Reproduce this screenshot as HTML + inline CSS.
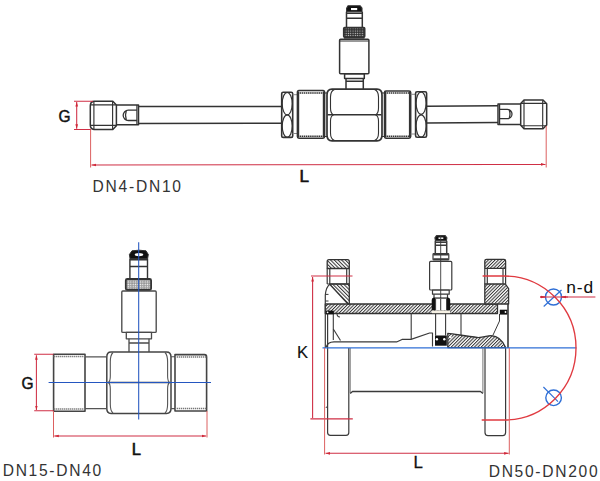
<!DOCTYPE html>
<html><head><meta charset="utf-8">
<style>
html,body{margin:0;padding:0;background:#fff;}
body{width:600px;height:481px;overflow:hidden;}
svg{display:block;}
.t{font-family:"Liberation Sans",sans-serif;}
</style></head><body>
<svg width="600" height="481" viewBox="0 0 600 481">
<defs>
  <pattern id="hf" patternUnits="userSpaceOnUse" width="2.35" height="4" patternTransform="rotate(45)">
    <rect width="2.35" height="4" fill="#fff"/>
    <rect x="0" y="0" width="1.0" height="4" fill="#333"/>
  </pattern>
  <pattern id="hb" patternUnits="userSpaceOnUse" width="2.6" height="4" patternTransform="rotate(-45)">
    <rect width="2.6" height="4" fill="#fff"/>
    <rect x="0" y="0" width="1.0" height="4" fill="#333"/>
  </pattern>
  <pattern id="kn" patternUnits="userSpaceOnUse" width="2.4" height="2.4">
    <rect width="2.3" height="2.3" fill="#888"/>
    <circle cx="1.15" cy="1.15" r="0.72" fill="#fff"/>
  </pattern>
  <pattern id="kn2" patternUnits="userSpaceOnUse" width="2.3" height="2.3">
    <rect width="2.3" height="2.3" fill="#333"/>
    <circle cx="1.15" cy="1.15" r="0.6" fill="#ddd"/>
  </pattern>
  <marker id="ar" viewBox="0 0 10 10" refX="10" refY="5" markerWidth="4.5" markerHeight="4.5" orient="auto-start-reverse" markerUnits="userSpaceOnUse">
    <path d="M0,2 L10,5 L0,8 z" fill="#d02838"/>
  </marker>
</defs>

<!-- ================= TOP DRAWING DN4-DN10 ================= -->
<g fill="none" stroke="#333" stroke-width="1.5" stroke-linejoin="round">
  <!-- left connector -->
  <path d="M94,101.3 L112.8,101.3 L116.4,105 L116.4,125.8 L112.8,129.5 L94,129.5 Q90.3,129 90.3,125 L90.3,105.8 Q90.3,101.8 94,101.3 z"/>
  <path d="M90.8,104.8 L116,104.8 M90.8,125.4 L116,125.4 M93.9,101.5 L93.9,129.3 M112.6,101.5 L112.6,129.3" stroke-width="1.15"/>
  <!-- left neck -->
  <path d="M116.4,105 L138.5,105 L138.5,124.8 L116.4,124.8"/>
  <path d="M136.9,105 L136.9,124.8" stroke-width="1.2"/>
  <path d="M136.9,110.2 L128.3,110.2 A5.1,5.1 0 0 0 128.3,120.5 L136.9,120.5 M126.3,110.8 Q124.6,115.3 126.3,119.9" stroke-width="1.3"/>
  <!-- left tube -->
  <path d="M138.5,106.6 L282,106.5 M138.5,123.6 L282,123.2"/>
  <!-- left nut -->
  <rect x="281.7" y="92.3" width="11" height="45.1" rx="1.5" stroke-width="1.6"/>
  <ellipse cx="287.2" cy="103.7" rx="5" ry="11.2" stroke-width="1.2"/>
  <ellipse cx="287.2" cy="126.1" rx="5" ry="11.2" stroke-width="1.2"/>
  <path d="M292.7,94.7 L297.4,94.7 M292.7,133.5 L297.4,133.5" stroke-width="1" stroke="#8a8a8a"/>
  <!-- left threaded -->
  <path d="M299,90.6 L323,90.6 Q324.6,90.6 324.6,92.5 L324.6,136.5 Q324.6,138.2 323,138.2 L299,138.2 Q297.4,138.2 297.4,136.5 L297.4,92.5 Q297.4,90.6 299,90.6 z"/>
  <path d="M297.5,93 L324.5,93 M297.5,136.2 L324.5,136.2" stroke-width="1.4" stroke-dasharray="1.5 0.6"/>
  <path d="M298.2,91.5 L298.2,137.5 M323.8,91.5 L323.8,137.5" stroke-width="2"/>
  <path d="M324.6,93 L327.5,93 M324.6,136.5 L327.5,136.5" stroke-width="1.1"/>
  <!-- central hex -->
  <path d="M332,89.2 L377,89.2 Q382,89.2 382,95 L382,135 Q382,140.8 377,140.8 L332,140.8 Q327,140.8 327,135 L327,95 Q327,89.2 332,89.2 z" stroke-width="1.7"/>
  <path d="M327.5,114.7 L381.5,114.7" stroke-width="1.6"/>
  <path d="M334.5,89.5 Q330.5,91 330.5,97 L330.5,108 Q330.5,113.5 333.5,114.7 Q330.5,116 330.5,121 L330.5,133 Q330.5,139 334.5,140.5 M374.5,89.5 Q378.5,91 378.5,97 L378.5,108 Q378.5,113.5 375.5,114.7 Q378.5,116 378.5,121 L378.5,133 Q378.5,139 374.5,140.5" stroke-width="1.1"/>
  <path d="M382,93 L384.5,93 M382,136.5 L384.5,136.5" stroke-width="1.1"/>
  <!-- right threaded -->
  <path d="M386,90.9 L409,90.9 Q410.7,90.9 410.7,92.5 L410.7,136.5 Q410.7,138.2 409,138.2 L386,138.2 Q384.5,138.2 384.5,136.5 L384.5,92.5 Q384.5,90.9 386,90.9 z"/>
  <path d="M384.5,93 L410.7,93 M384.5,136.2 L410.7,136.2" stroke-width="1.4" stroke-dasharray="1.5 0.6"/>
  <path d="M385.3,91.5 L385.3,137.5 M409.9,91.5 L409.9,137.5" stroke-width="2"/>
  <path d="M410.7,94.3 L415.6,94.3 M410.7,134 L415.6,134" stroke-width="1" stroke="#8a8a8a"/>
  <!-- right nut -->
  <rect x="415.6" y="91.8" width="11" height="45.4" rx="1.5" stroke-width="1.6"/>
  <ellipse cx="421.1" cy="103.2" rx="5" ry="11.2" stroke-width="1.2"/>
  <ellipse cx="421.1" cy="126" rx="5" ry="11.2" stroke-width="1.2"/>
  <!-- right tube -->
  <path d="M426,106.2 L498,105.7 M426,123 L498,122.4"/>
  <!-- right neck -->
  <path d="M520.7,104 L498,104 L498,124.4 L520.7,124.4"/>
  <path d="M499.6,104 L499.6,124.4" stroke-width="1.2"/>
  <path d="M499.6,109.3 L507.3,109.3 A4.7,4.7 0 0 1 507.3,118.7 L499.6,118.7 M509.2,109.9 Q510.8,114 509.2,118.1" stroke-width="1.3"/>
  <!-- right connector -->
  <path d="M524,100 L543,100 L546.7,103.8 L546.7,124.9 L543,128.7 L524,128.7 L520.7,125.2 L520.7,103.5 z"/>
  <path d="M521,103.3 L546.3,103.3 M521,125.7 L546.3,125.7 M524,100.3 L524,128.4 M542.7,100.3 L542.7,128.4" stroke-width="1.15"/>
  <!-- sensor -->
  <path d="M348,5.8 L360.2,5.8 L362,8.2 L362,11.7 L346.6,11.7 L346.6,8.2 z" fill="#111" stroke-width="1.1"/>
  <rect x="351" y="8" width="6.2" height="2.1" fill="#fff" stroke="none"/>
  <path d="M346.5,11.7 L346.5,27.6 M362.3,11.7 L362.3,27.6 M346.5,13.3 L362.3,13.3 M346.5,18.3 L362.3,18.3" stroke-width="1.5"/>
  <rect x="343.7" y="27.6" width="21" height="9.6" rx="1" fill="url(#kn2)" stroke-width="1.6"/>
  <path d="M344,38 L364.5,38" stroke-width="1.3"/>
  <rect x="339.6" y="39.3" width="29.3" height="34.5" rx="1"/>
  <path d="M339.8,41 L368.8,41" stroke-width="1"/>
  <rect x="344.6" y="73.8" width="19.7" height="4.7"/>
  <path d="M346,78.5 L346,89 M363.3,78.5 L363.3,89 M346,81.3 L363.3,81.3"/>
</g>
<!-- top dims -->
<g fill="none" stroke="#cf2f45" stroke-width="1.05">
  <path d="M74,101.2 L93,101.2 M74,129.5 L91,129.5"/>
  <path d="M76.7,102 L76.7,128.7" marker-start="url(#ar)" marker-end="url(#ar)"/>
  <path d="M90.6,129.5 L90.6,167.5 M546.2,126 L546.2,167.5" stroke="#dc6060" stroke-width="1"/>
  <path d="M91.5,165 L545.5,164.4" marker-start="url(#ar)" marker-end="url(#ar)"/>
</g>
<text class="t" transform="translate(58.6,121.6) scale(0.9,1)" font-size="17.2" fill="#111" stroke="#111" stroke-width="0.5">G</text>
<text class="t" x="299.4" y="182.4" font-size="17.2" fill="#111" stroke="#111" stroke-width="0.6">L</text>
<text class="t" x="92.5" y="192" font-size="15.6" fill="#333" letter-spacing="1.75">DN4-DN10</text>

<!-- ================= MIDDLE DRAWING DN15-DN40 ================= -->
<g fill="none" stroke="#333" stroke-width="1.5" stroke-linejoin="round">
  <!-- cap -->
  <path d="M132,250.8 Q139,249.6 146,250.8 L148.3,254.5 L147.6,258.5 L130,258.5 L129.4,254.5 z" fill="#111" stroke-width="1"/>
  <ellipse cx="139" cy="254.6" rx="4.3" ry="1.6" fill="#fff" stroke="none"/>
  <path d="M129.9,258.5 L129.9,279 M147.5,258.5 L147.5,279 M129.9,259.8 L147.5,259.8 M129.9,266.5 L147.5,266.5" stroke-width="1.4"/>
  <rect x="125.8" y="279" width="25.3" height="11" rx="1.5" fill="url(#kn)" stroke-width="1.8"/>
  <rect x="121.8" y="291" width="34.4" height="41.4" rx="1" stroke="#4a4a4a" stroke-width="1.35"/>
  <rect x="126.3" y="332.4" width="25.2" height="6.4" stroke="#4a4a4a" stroke-width="1.3"/>
  <path d="M129,338.8 L129,352 M149,338.8 L149,352 M129,343 L149,343" stroke="#4a4a4a" stroke-width="1.3"/>
  <!-- body -->
  <path d="M111,352 L166.5,352 Q171,352 171,357 L171,408.5 Q171,413.4 166.5,413.4 L111,413.4 Q106.8,413.4 106.8,408.5 L106.8,357 Q106.8,352 111,352 z" stroke="#444" stroke-width="1.5"/>
  <path d="M113,352.5 Q110.3,355 110.3,362 L110.3,376 Q110.3,381 108.5,382.5 Q110.3,384 110.3,389 L110.3,404 Q110.3,411 113,413 M165,352.5 Q167.6,355 167.6,362 L167.6,376 Q167.6,381 169.5,382.5 Q167.6,384 167.6,389 L167.6,404 Q167.6,411 165,413" stroke="#555" stroke-width="1.1"/>
  <path d="M108,382.5 L169.5,382.5" stroke="#444" stroke-width="1.3"/>
  <!-- left threaded -->
  <path d="M53.6,354.2 L85,354.2 L85,411.2 L53.6,411.2 z" stroke="#444" stroke-width="1.6"/>
  <path d="M53.6,356.6 L85,356.6 M53.6,408.9 L85,408.9" stroke="#777" stroke-width="1.5" stroke-dasharray="1.3 0.7"/>
  <path d="M85,356.8 L106.8,356.8 M85,408.6 L106.8,408.6" stroke="#555" stroke-width="1.2"/>
  <!-- right gap -->
  <path d="M171,356.7 L175,356.7 M171,408.6 L175,408.6" stroke="#555" stroke-width="1.1"/>
  <!-- right threaded -->
  <path d="M175,354.6 L204.5,354.6 Q206.6,354.6 206.6,357 L206.6,411 L175,411 z" stroke="#444" stroke-width="1.6"/>
  <path d="M175,357 L206.6,357 M175,408.6 L206.6,408.6" stroke="#777" stroke-width="1.5" stroke-dasharray="1.3 0.7"/>
</g>
<g fill="none" stroke="#2456c0" stroke-width="1.05">
  <path d="M138.7,242.3 L138.7,419.5 M48.6,382.5 L211,382.5"/>
</g>
<g fill="none" stroke="#cf2f45" stroke-width="1.05">
  <path d="M34.2,354.3 L53.5,354.3 M34.2,410.8 L53.5,410.8"/>
  <path d="M36.4,355.2 L36.4,410" marker-start="url(#ar)" marker-end="url(#ar)"/>
  <path d="M53.5,411 L53.5,437.5 M207,411 L207,437.5" stroke="#dc6060" stroke-width="1"/>
  <path d="M54.3,436 L206.2,436" marker-start="url(#ar)" marker-end="url(#ar)"/>
</g>
<text class="t" transform="translate(21.4,388.7) scale(0.9,1)" font-size="17.2" fill="#111" stroke="#111" stroke-width="0.5">G</text>
<text class="t" x="131.8" y="454.8" font-size="16.6" fill="#111" stroke="#111" stroke-width="0.6">L</text>
<text class="t" x="2.7" y="476.1" font-size="15.6" fill="#333" letter-spacing="1.7">DN15-DN40</text>

<!-- ================= RIGHT DRAWING DN50-DN200 ================= -->
<!-- hatched regions -->
<g stroke="#333" stroke-width="1.3" stroke-linejoin="round">
  <!-- pipe wall -->
  <path d="M325.3,304 L497.5,304 L497.5,313.5 L337,313.5 L325.3,313.5 z" fill="url(#hf)"/>
  <!-- left flange top -->
  <path d="M329,259.6 L347.5,259.6 Q349.3,259.6 349.3,261.5 L349.3,268.5 L327.2,268.5 L327.2,261.5 Q327.2,259.6 329,259.6 z" fill="url(#hb)"/>
  <!-- left flange lower triangle -->
  <path d="M329.5,284 L349.3,284 L349.3,304 L348,304 z" fill="url(#hb)"/>
  <!-- right flange top -->
  <path d="M486.5,259.3 L504,259.3 Q505.6,259.3 505.6,261 L505.6,268.3 L484.8,268.3 L484.8,261 Q484.8,259.3 486.5,259.3 z" fill="url(#hf)"/>
  <!-- right flange lower -->
  <path d="M484.8,284 L505.4,284 L508.6,288.6 L508.6,304 L484.8,304 z" fill="url(#hf)"/>
  <!-- right vane -->
  <path d="M447.8,333.4 C455,334 464,336 478.4,337.6 C484,337.4 487.5,335.6 491,335.6 C498,336 503,341 505.6,347.6 L447.8,347.6 z" fill="url(#hf)"/>
</g>
<g fill="none" stroke="#3a3a3a" stroke-width="1.2" stroke-linejoin="round">
  <!-- left flange bolt hole sides -->
  <path d="M327.2,268.5 L327.2,284 M329.8,268.5 L329.8,284 M346.7,268.5 L346.7,284 M349.3,268.5 L349.3,284 M327.2,284 L349.3,284"/>
  <!-- left flange curved left region -->
  <path d="M330,284 Q326,287 325.3,295 L325.3,348"/>
  <path d="M325.3,294.4 L328.5,294.4 M325.3,301 L328.5,301" stroke-width="1"/>
  <!-- left flange lower -->
  <path d="M327.6,314 L327.6,432.5 Q327.6,435.3 330.5,435.3 L346,435.3 Q348.8,435.3 348.8,432.5 L348.8,348"/>
  <path d="M350.2,348 L350.2,393" stroke-width="1" stroke="#777"/>
  <path d="M327.6,406 L325.8,408" stroke-width="1"/>
  <!-- right flange bolt hole -->
  <path d="M484.8,268.3 L484.8,284 M487.3,268.3 L487.3,284 M503,268.3 L503,284 M505.6,268.3 L505.6,284"/>
  <!-- right flange lower -->
  <path d="M485,348 L485,432.5 Q485,435.6 488,435.6 L502.6,435.6 Q505.6,435.6 505.6,432.5 L505.6,348"/>
  <path d="M482.9,348 L482.9,393" stroke-width="1" stroke="#777"/>
  <path d="M508,304 L508,348" stroke-width="1.6"/>
  <path d="M499.5,314 L499.5,321 L492.8,335.5" stroke-width="1"/>
  <!-- bore -->
  <path d="M350.2,393.5 L352.5,391.5 L480.5,391.5 L482.9,393.5" stroke-width="1.3"/>
  <!-- liner lines -->
  <path d="M333.3,313.5 L333.3,340 M411.2,314 L411.2,339 M461,314 L461,335" stroke-width="1.1"/>
  <path d="M337,313.5 Q337,317 340,317" stroke-width="1.1"/>
  <!-- left guide -->
  <path d="M326,347.5 Q327.5,342 334,341.9 L396.6,341.9 L402,339.4 L411,339.4 L429.6,333 L432.5,333 L432.5,346.5" stroke-width="1.15"/>
  <path d="M333.3,329 L340.5,340.5" stroke-width="1.1"/>
  <!-- sensor right drawing -->
  <path d="M436.5,235.6 L445.2,235.6 L446.9,237.8 L446.3,240.8 L435.5,240.8 L434.9,237.8 z" fill="#111" stroke-width="1.1"/>
  <path d="M438.5,238.2 L443.3,238.2" stroke="#fff" stroke-width="1.5"/>
  <path d="M435.3,240.8 L435.3,253.6 M446.7,240.8 L446.7,253.6 M435.3,242.2 L446.7,242.2 M435.3,245.2 L446.7,245.2" stroke-width="1.5"/>
  <rect x="433" y="253.6" width="15.8" height="6.4" rx="0.8"/>
  <path d="M433.3,254.6 L448.5,254.6 M433.3,259.2 L448.5,259.2" stroke-width="1.8"/>
  <rect x="429.6" y="261.4" width="22.2" height="28.6" rx="1"/>
  <rect x="432.5" y="290" width="16.7" height="4.2"/>
  <path d="M434,294.2 L434,298 M447.5,294.2 L447.5,298"/>
  <path d="M435.6,314 L435.6,335.5 M445.6,314 L445.6,335.5" stroke-width="1.1"/>
  <path d="M440.7,236 L440.7,310" stroke-width="0.9"/>
</g>
<!-- black nut & rotor -->
<g>
  <path d="M434,297.5 L448,297.5 Q450.2,297.5 450.2,300 L450.2,310.4 L431.7,310.4 L431.7,300 Q431.7,297.5 434,297.5 z" fill="#111"/>
  <rect x="435" y="298.6" width="12" height="11.8" fill="#fff"/>
  <path d="M435.6,298.6 L435.6,310.4 M446.6,298.6 L446.6,310.4 M440.7,298.6 L440.7,310.4" stroke="#333" stroke-width="1"/>
  <rect x="432" y="310.6" width="18" height="2.6" fill="#f6f1e4"/>
  <rect x="435" y="335.5" width="11.8" height="10.2" fill="#111"/>
  <circle cx="436.9" cy="339.3" r="1.2" fill="#fff"/>
  <circle cx="444.3" cy="339.3" r="1.2" fill="#fff"/>
  <rect x="325.8" y="310.6" width="8" height="3.7" fill="#111"/>
  <circle cx="327.6" cy="312.3" r="0.9" fill="#fff"/>
  <rect x="499.8" y="309.7" width="7.5" height="4.9" fill="#111"/>
  <circle cx="505.5" cy="312" r="0.9" fill="#fff"/>
  <circle cx="450.3" cy="337" r="1.3" fill="#fff"/>
</g>
<!-- blue -->
<g fill="none" stroke="#2f6fd6" stroke-width="1.15">
  <path d="M322.5,347.8 L576.4,347.8"/>
  <circle cx="553.5" cy="297" r="8" stroke-width="1.4"/>
  <path d="M543.7,306.5 L561.5,290"/>
  <circle cx="553.6" cy="397.8" r="7.8" stroke-width="1.4"/>
  <path d="M543.4,387 L558,401.6"/>
</g>
<!-- red dims -->
<g fill="none" stroke="#cf2f45" stroke-width="1.1">
  <path d="M311,276 L352.5,276 M310.4,418.9 L352.8,418.9"/>
  <path d="M312.6,277 L312.6,418" marker-start="url(#ar)"/>
  <path d="M482.6,276 L504,276 A72,72 0 0 1 504,420 L481.7,420" stroke-width="1.35" stroke="#e03a40"/>
  <path d="M540,297 L595.4,297"/>
  <path d="M540,297 L545.5,297" marker-end="url(#ar)"/>
  <path d="M568,297 L561.5,297" marker-end="url(#ar)"/>
  <path d="M324.6,348 L324.6,454.5 M509.3,348 L509.3,454.5" stroke="#dc6060" stroke-width="1"/>
  <path d="M325.5,453.3 L508.6,453.3" marker-start="url(#ar)" marker-end="url(#ar)"/>
</g>
<text class="t" x="297" y="357.9" font-size="16.6" fill="#111" stroke="#111" stroke-width="0.15">K</text>
<text class="t" x="566.3" y="292.7" font-size="17.4" fill="#111" stroke="#111" stroke-width="0.05" letter-spacing="0.9">n-d</text>
<text class="t" x="413.6" y="467.6" font-size="16.8" fill="#111" stroke="#111" stroke-width="0.3">L</text>
<text class="t" x="488.7" y="476.6" font-size="15.6" fill="#333" letter-spacing="1.7">DN50-DN200</text>
</svg>
</body></html>
